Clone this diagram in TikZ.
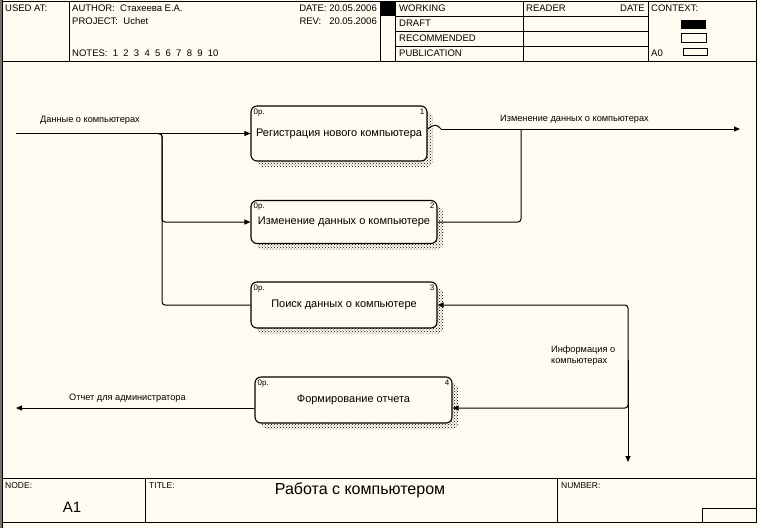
\documentclass[tikz,border=0pt]{standalone}
\usepackage{fontspec}
\setmainfont{Liberation Sans}
\usetikzlibrary{arrows.meta,positioning,calc,patterns,shadows}
\definecolor{paper}{RGB}{255,251,240}

\begin{document}
\begin{tikzpicture}[x=1pt,y=-1pt,
    frame/.style={line width=0.9pt},
    hdr/.style={anchor=west,inner sep=0pt,font=\fontsize{9.5}{10}\selectfont},
    small/.style={anchor=west,inner sep=0pt,font=\fontsize{8.5}{9}\selectfont},
    func/.style={draw,line width=1.1pt,rounded corners=6pt,fill=paper,inner sep=2pt,
        font=\fontsize{11}{12}\selectfont,
        general shadow={shadow xshift=6pt,shadow yshift=-6pt,pattern=crosshatch dots,pattern color=black}},
    tag/.style={inner sep=0pt,font=\fontsize{8}{9}\selectfont},
    pipe/.style={line width=1pt},
    flow/.style={line width=1pt,-{Triangle[length=6pt,width=5pt]}},
    lbl/.style={inner sep=0pt,font=\fontsize{9.2}{11}\selectfont}]
    \fill[paper] (0,0) rectangle (759,528);
    \useasboundingbox (0,0) rectangle (759,528);
    \fill[black!55] (0,0) rectangle (2,528);
    \draw[frame] (2.5,0) -- (2.5,528);
    \draw[frame] (756,0) -- (756,522);
    % header
    \draw[frame] (2.5,1) rectangle (756,61);
    \foreach \xx in {69,380,395,523,648}
        \draw[frame] (\xx,1) -- (\xx,61);
    \foreach \yy in {16,31,46}
        \draw[frame] (395,\yy) -- (648,\yy);
    \fill (380,1) rectangle (395,16);
    \fill (681,20) rectangle (706,29);
    \draw (681,33) rectangle (706,42);
    \draw (683,48) rectangle (707,55);
    \node[hdr] (usedAt) at (5,8) {USED AT:};
    \node[hdr] (author) at (72,8) {AUTHOR:\ \ Стахеева Е.А.};
    \node[hdr] (project) at (72,21) {PROJECT:\ \ Uchet};
    \node[hdr] (notes) at (72,53) {NOTES:\ \ 1\ \ 2\ \ 3\ \ 4\ \ 5\ \ 6\ \ 7\ \ 8\ \ 9\ \ 10};
    \node[hdr,anchor=east] (date) at (377,8) {DATE: 20.05.2006};
    \node[hdr,anchor=east] (rev) at (377,21) {REV:\ \ \ 20.05.2006};
    \node[hdr] (working) at (399,8) {WORKING};
    \node[hdr] (draft) at (399,23) {DRAFT};
    \node[hdr] (recommended) at (399,38) {RECOMMENDED};
    \node[hdr] (publication) at (399,53) {PUBLICATION};
    \node[hdr] (reader) at (526,8) {READER};
    \node[hdr,anchor=east] (readerDate) at (645,8) {DATE};
    \node[hdr] (context) at (651,8) {CONTEXT:};
    \node[hdr] (ctxNode) at (651,53) {A0};
    % footer
    \draw[frame] (2.5,478) rectangle (756,522);
    \draw[frame] (145,478) -- (145,522);
    \draw[frame] (557,478) -- (557,522);
    \draw[frame] (702,508) rectangle (756,522);
    \node[small] (nodeHdr) at (5,486) {NODE:};
    \node[small] (titleHdr) at (149,486) {TITLE:};
    \node[small] (numberHdr) at (561,486) {NUMBER:};
    \node[inner sep=0pt,font=\fontsize{15}{16}\selectfont] (nodeNum) at (72,507) {A1};
    \node[inner sep=0pt,font=\fontsize{16}{17}\selectfont] (title) at (360,490) {Работа с компьютером};
    % functions
    \node[func,minimum width=176,minimum height=55] (b1) at (339,133.5) {Регистрация нового компьютера};
    \node[func,minimum width=186,minimum height=43] (b2) at (344,222) {Изменение данных о компьютере};
    \node[func,minimum width=186,minimum height=46] (b3) at (344,305) {Поиск данных о компьютере};
    \node[func,minimum width=197,minimum height=46] (b4) at (353.5,400) {Формирование отчета};
    \foreach \b/\n in {b1/1,b2/2,b3/3,b4/4}{
        \node[tag,anchor=north west] (\b o) at ($(\b.north west)+(3,3)$) {0р.};
        \node[tag,anchor=north east] (\b n) at ($(\b.north east)+(-3,3)$) {\n};
    }
    % arrows
    \coordinate (dataIn) at (16,133.5);
    \coordinate (split) at (158,133.5);
    \coordinate (drop) at (162,180);
    \coordinate (chgStart) at (441,129);
    \coordinate (chgOut) at (740,129);
    \coordinate (merge) at (521,129);
    \coordinate (infoUp) at (628,360);
    \coordinate (infoOut) at (628,462);
    \coordinate (report) at (16,408);
    \draw[flow] (dataIn) -- (b1.west);
    \draw[flow,rounded corners=3] (split) -| (drop) |- (b2.west);
    \draw[pipe,rounded corners=3] (split) -| (drop) |- (b3.west);
    \draw[pipe] (b1.east |- chgStart) .. controls (434,124) and (437,124) .. (chgStart);
    \draw[flow] (chgStart) -- (chgOut);
    \draw[pipe,rounded corners=3] (b2.east) -| (merge);
    \draw[flow,rounded corners=3] (infoUp) |- (b3.east);
    \draw[flow,rounded corners=3] (infoUp) |- (b4.east |- report);
    \draw[flow] (infoUp) -- (infoOut);
    \draw[flow] (b4.west |- report) -- (report);
    \node[lbl,anchor=west] (dataLbl) at (40,120) {Данные о компьютерах};
    \node[lbl,anchor=west] (chgLbl) at (500,119) {Изменение данных о компьютерах};
    \node[lbl,anchor=north west,align=left] (infoLbl) at (551,346) {Информация о\\компьютерах};
    \node[lbl,anchor=west] (rptLbl) at (69,398) {Отчет для администратора};
\end{tikzpicture}
\end{document}
